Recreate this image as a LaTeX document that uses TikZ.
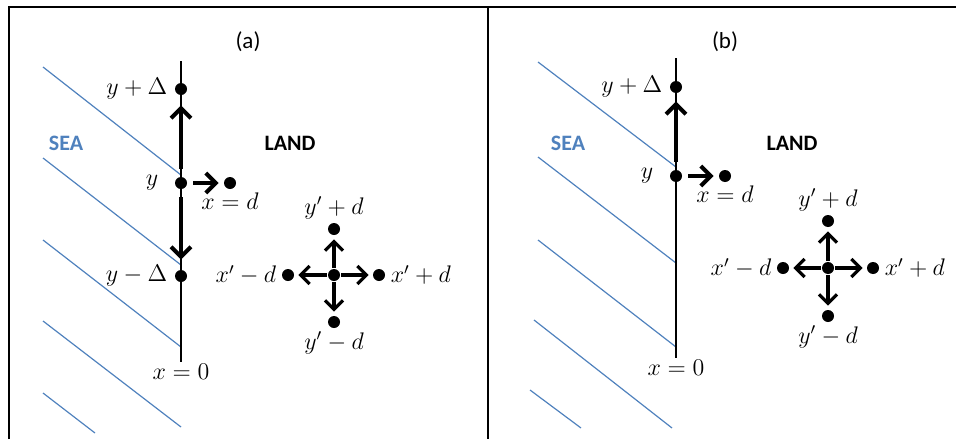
\documentclass[tikz,border=0pt]{standalone}
\usepackage{fontspec}
\setmainfont{Carlito}
\usepackage{tikz}
\usetikzlibrary{arrows.meta, positioning}
\definecolor{SeaBlue}{RGB}{79, 129, 189}

\tikzset{
  dot/.style={circle, fill=black, inner sep=0pt, minimum size=6pt},
  lbl/.style={inner sep=1pt, font=\fontsize{11.5}{13}\selectfont},
  word/.style={inner sep=1pt, font=\fontsize{11}{13}\selectfont\bfseries},
  move/.style={line width=2pt, -{Straight Barb[length=5pt, width=10pt]}, shorten <=4pt, shorten >=5pt},
  hop/.style={line width=1.6pt, -{Straight Barb[length=4.5pt, width=9pt]}, shorten <=0.5pt, shorten >=2pt},
  coast/.style={SeaBlue, line width=0.6pt},
}

\begin{document}
\begin{tikzpicture}[x=0.5pt,y=-0.5pt]
  \path[use as bounding box] (0,0) rectangle (956,439);
  % table frame
  \draw[line width=1pt] (9,439) -- (9,7) -- (956,7);
  \draw[line width=1pt] (488,7) -- (488,439);

  % ---- panel (a)
  \node[lbl] (capa) at (248,42) {(a)};
  \foreach \ya/\yb in {67/175, 158/265, 240/347, 321/427}{
    \draw[coast] (43,\ya) -- (181,\yb);
  }
  \draw[coast] (43,393) -- (95,433);
  \node[word, text=SeaBlue] (seaa) at (66,143) {SEA};
  \node[word] (landa) at (290,143) {LAND};
  \coordinate (atop) at (181,61);
  \coordinate (abot) at (181,362);
  \draw[line width=1pt] (atop) -- (abot);
  \node[dot] (aup) at (181,89) {};
  \node[dot] (ay) at (181,183) {};
  \node[dot] (adn) at (181,276) {};
  \node[dot] (ad) at (230,183) {};
  \draw[move] (ay) -- (aup);
  \draw[move] (ay) -- (adn);
  \draw[move, shorten <=3pt, shorten >=2.5pt] (ay) -- (ad);
  \node[lbl, left=2.5pt of aup] {$y+\Delta$};
  \node[lbl, left=7pt of ay] {$y$};
  \node[lbl, left=2.5pt of adn] {$y-\Delta$};
  \node[lbl, below=0.5pt of ad] {$x=d$};
  \node[lbl, below=0pt of abot] {$x=0$};
  % cross
  \node[dot] (ac) at (334,275) {};
  \node[dot] (acu) at (334,229) {};
  \node[dot] (acd) at (334,322) {};
  \node[dot] (acl) at (288,275) {};
  \node[dot] (acr) at (379,275) {};
  \foreach \n in {acu,acd,acl,acr}{
    \draw[hop] (ac) -- (\n);
  }
  \node[lbl, above=0.5pt of acu] {$y'+d$};
  \node[lbl, below=0.5pt of acd] {$y'-d$};
  \node[lbl, left=1.5pt of acl] {$x'-d$};
  \node[lbl, right=1.5pt of acr] {$x'+d$};

  % ---- panel (b)
  \node[lbl] (capb) at (725,42) {(b)};
  \foreach \xa/\ya/\xb/\yb in {538/62/676/167, 538/157/676/263, 538/240/676/347, 534/320/672/428}{
    \draw[coast] (\xa,\ya) -- (\xb,\yb);
  }
  \draw[coast] (530,390) -- (581,428);
  \node[word, text=SeaBlue] (seab) at (568,143) {SEA};
  \node[word] (landb) at (792,143) {LAND};
  \coordinate (btop) at (676,58);
  \coordinate (bbot) at (676,358);
  \draw[line width=1pt] (btop) -- (bbot);
  \node[dot] (bup) at (676,87) {};
  \node[dot] (by) at (676,176) {};
  \node[dot] (bd) at (725,176) {};
  \draw[move, shorten >=4pt] (by) -- (bup);
  \draw[move, shorten <=3pt, shorten >=2.5pt] (by) -- (bd);
  \node[lbl, left=2.5pt of bup] {$y+\Delta$};
  \node[lbl, left=7pt of by] {$y$};
  \node[lbl, below=0.5pt of bd] {$x=d$};
  \node[lbl, below=0pt of bbot] {$x=0$};
  % cross
  \node[dot] (bc) at (828,268) {};
  \node[dot] (bcu) at (828,221) {};
  \node[dot] (bcd) at (828,316) {};
  \node[dot] (bcl) at (783,268) {};
  \node[dot] (bcr) at (873,268) {};
  \foreach \n in {bcu,bcd,bcl,bcr}{
    \draw[hop] (bc) -- (\n);
  }
  \node[lbl, above=0.5pt of bcu] {$y'+d$};
  \node[lbl, below=0.5pt of bcd] {$y'-d$};
  \node[lbl, left=1.5pt of bcl] {$x'-d$};
  \node[lbl, right=1.5pt of bcr] {$x'+d$};
\end{tikzpicture}
\end{document}
